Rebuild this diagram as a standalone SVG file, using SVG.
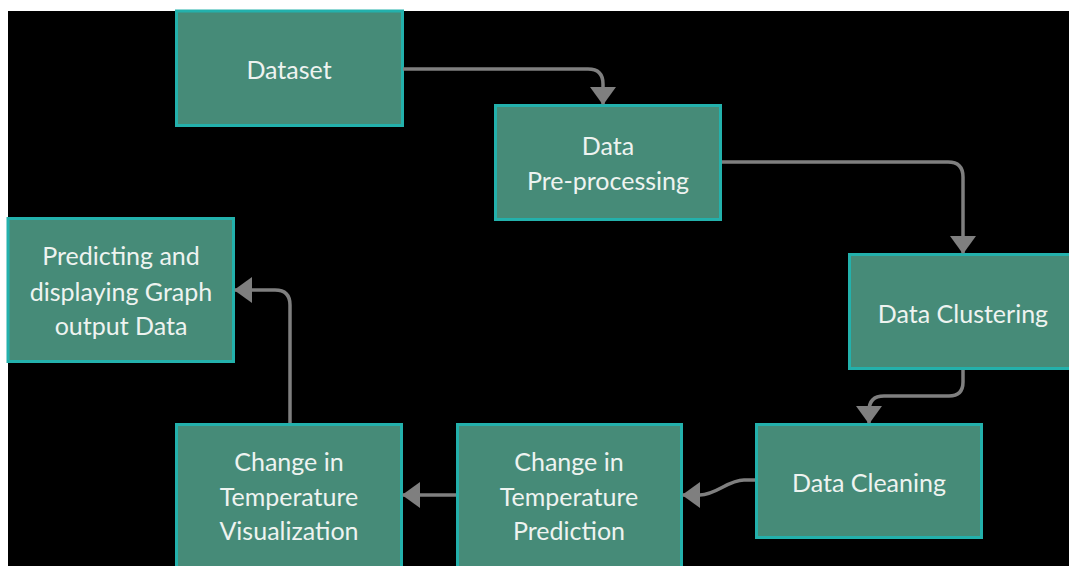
<svg xmlns="http://www.w3.org/2000/svg" width="1069" height="566" viewBox="0 0 1069 566">
<defs>
<style>
.box{fill:#468b78;stroke:#23b1ac;stroke-width:3}
.t{font-family:Lato,"Liberation Sans",sans-serif;font-size:25px;fill:#eef3f0;text-anchor:middle}
.c{fill:none;stroke:#7f7f7f;stroke-width:3.5}
</style>
<marker id="ah" viewBox="0 0 18 26" refX="17" refY="13" markerWidth="18" markerHeight="26" markerUnits="userSpaceOnUse" orient="auto">
<path d="M0,0 L18,13 L0,26 Z" fill="#7f7f7f"/>
</marker>
</defs>
<rect x="0" y="0" width="1069" height="566" fill="#ffffff"/>
<rect x="8" y="11" width="1061" height="555" fill="#000000"/>
<g id="n-dataset"><rect class="box" x="176.5" y="11" width="226" height="114.5"/><text class="t" x="289" y="79">Dataset</text></g>
<g id="n-preprocessing"><rect class="box" x="495.5" y="105.5" width="225" height="114"/><text class="t" x="608" y="155">Data</text><text class="t" x="608" y="190">Pre-processing</text></g>
<g id="n-clustering"><rect class="box" x="849.5" y="254.5" width="228" height="114"/><text class="t" x="963" y="323">Data Clustering</text></g>
<g id="n-cleaning"><rect class="box" x="756.5" y="424.5" width="225" height="113"/><text class="t" x="869" y="492">Data Cleaning</text></g>
<g id="n-prediction"><rect class="box" x="457.5" y="424.5" width="224" height="150"/><text class="t" x="569" y="471">Change in</text><text class="t" x="569" y="506">Temperature</text><text class="t" x="569" y="540">Prediction</text></g>
<g id="n-visualization"><rect class="box" x="176.5" y="424.5" width="225" height="150"/><text class="t" x="289" y="471">Change in</text><text class="t" x="289" y="506">Temperature</text><text class="t" x="289" y="540">Visualization</text></g>
<g id="n-predicting"><rect class="box" x="8" y="218.5" width="225.5" height="143"/><text class="t" x="121" y="265">Predicting and</text><text class="t" x="121" y="301">displaying Graph</text><text class="t" x="121" y="335">output Data</text></g>
<g id="connectors">
<path class="c" d="M403,69 H588 Q603,69 603,84 V104" marker-end="url(#ah)"/>
<path class="c" d="M722,162 H948 Q963,162 963,177 V253" marker-end="url(#ah)"/>
<path class="c" d="M963,370 V382 Q963,396 949,396 H884 Q869,396 869,411 V423" marker-end="url(#ah)"/>
<path class="c" d="M755,480 H744 C728,480 716,495 700,495 H683" marker-end="url(#ah)"/>
<path class="c" d="M456,495 H403" marker-end="url(#ah)"/>
<path class="c" d="M290,423 V305 Q290,290 275,290 H235" marker-end="url(#ah)"/>
</g>
</svg>
